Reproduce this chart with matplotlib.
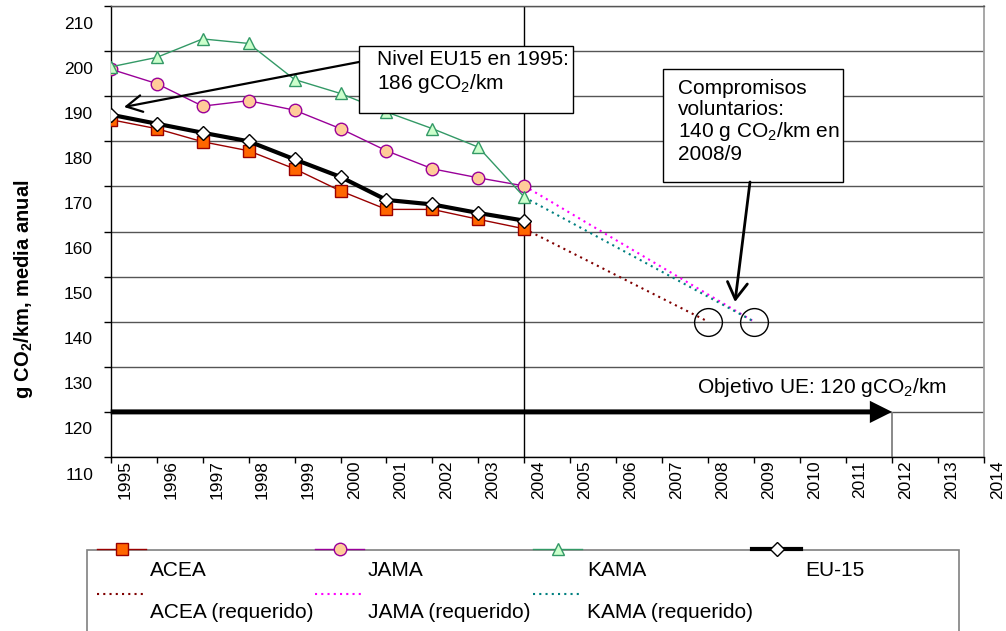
import matplotlib
matplotlib.use('Agg')
import matplotlib.pyplot as plt
from matplotlib.lines import Line2D
from matplotlib.patches import Rectangle, FancyArrowPatch
from matplotlib.transforms import ScaledTranslation

plt.rcParams['font.family'] = ['Liberation Sans', 'DejaVu Sans']
plt.rcParams['mathtext.fontset'] = 'custom'
plt.rcParams['mathtext.rm'] = 'Liberation Sans'
plt.rcParams['mathtext.it'] = 'Liberation Sans:italic'
plt.rcParams['mathtext.bf'] = 'Liberation Sans:bold'

# ---------------- data ----------------
years = [1995, 1996, 1997, 1998, 1999, 2000, 2001, 2002, 2003, 2004]
acea = [184.8, 182.8, 179.9, 177.9, 173.9, 169.0, 164.9, 164.9, 162.7, 160.6]
jama = [196.0, 192.8, 187.8, 189.0, 186.9, 182.8, 177.9, 173.9, 171.9, 170.1]
kama = [196.5, 198.6, 202.7, 201.7, 193.7, 190.6, 186.5, 182.8, 178.7, 167.6]
eu15 = [185.9, 183.9, 181.9, 180.0, 176.0, 172.1, 167.0, 166.0, 164.1, 162.4]

acea_req_years = [2004, 2008]
acea_req = [160.6, 140]
jama_req_years = [2004, 2009]
jama_req = [170.1, 140]
kama_req_years = [2004, 2009]
kama_req = [167.6, 140]

target_years = [2008, 2009]
target_vals = [140, 140]

objective_years = [1995, 2012]
objective_val = 120

xticks = list(range(1995, 2015))
yticks = list(range(110, 211, 10))

legend_row1 = ['ACEA', 'JAMA', 'KAMA', 'EU-15']
legend_row2 = ['ACEA (requerido)', 'JAMA (requerido)', 'KAMA (requerido)']

# ---------------- figure ----------------
W, H = 1006, 631
fig = plt.figure(figsize=(W / 100, H / 100), dpi=100)
fig.patch.set_facecolor('white')


def fx(x):
    return x / W


def fy(y):
    return 1 - y / H


ax = fig.add_axes([fx(110.7), fy(457), (984 - 110.7) / W, (457 - 6) / H])
ax.set_xlim(1995, 2014)
ax.set_ylim(110, 210)

ax.set_axisbelow(True)
ax.yaxis.grid(True, color='#555555', lw=1.0)
ax.xaxis.grid(False)
for s in ['left', 'bottom']:
    ax.spines[s].set_color('black')
    ax.spines[s].set_linewidth(1.0)
ax.spines['right'].set_color('#a0a0a0')
ax.spines['right'].set_linewidth(1.3)
ax.spines['top'].set_color('#555555')
ax.spines['top'].set_linewidth(1.0)

ax.set_xticks(xticks)
ax.set_xticklabels([str(y) for y in xticks], rotation=90, fontsize=12.5)
ax.set_yticks(yticks)
ax.set_yticklabels([str(v) for v in yticks], fontsize=12.5)
ax.tick_params(axis='x', direction='out', length=4.3, width=1, pad=-2.0, colors='black')
ax.tick_params(axis='y', direction='out', length=5, width=1, pad=7.7, colors='black')

offx = ScaledTranslation(14 / 100, 0, fig.dpi_scale_trans)
for lbl in ax.get_xticklabels():
    lbl.set_transform(lbl.get_transform() + offx)
offy = ScaledTranslation(0, -16.5 / 100, fig.dpi_scale_trans)
for lbl in ax.get_yticklabels():
    lbl.set_transform(lbl.get_transform() + offy)

# reference lines
ax.axvline(2004, color='black', lw=1.0, zorder=2)
ax.vlines(objective_years[1], 110, objective_val, color='#808080', lw=1.3, zorder=2)

# objective arrow
ax.annotate('', xy=(objective_years[1], objective_val), xytext=(objective_years[0], objective_val),
            arrowprops=dict(arrowstyle='simple,head_length=0.8,head_width=0.8,tail_width=0.18',
                            mutation_scale=20, fc='black', ec='none', lw=0,
                            shrinkA=0, shrinkB=0),
            zorder=4, annotation_clip=False)

# required (dotted) lines
ax.plot(acea_req_years, acea_req, color='#800000', lw=1.5, ls=(0, (1, 2)), zorder=3)
ax.plot(jama_req_years, jama_req, color='#ff00ff', lw=1.5, ls=(0, (1, 2)), zorder=3)
ax.plot(kama_req_years, kama_req, color='#008080', lw=1.5, ls=(0, (1, 2)), zorder=3)

# target circles
ax.plot(target_years, target_vals, ls='none', marker='o', ms=20, mfc='none', mec='black',
        mew=1.0, zorder=3)

# series
acea_style = dict(color='#990000', lw=1.0, marker='s', ms=8, mfc='#ff6600', mec='#990000', mew=1.0)
jama_style = dict(color='#990099', lw=1.0, marker='o', ms=9, mfc='#ffcc99', mec='#990099', mew=1.0)
kama_style = dict(color='#339966', lw=1.0, marker='^', ms=9, mfc='#ccffcc', mec='#339966', mew=1.0)
eu_style = dict(color='black', lw=3.0, marker='D', ms=7, mfc='white', mec='black', mew=1.0)

ax.plot(years, acea, zorder=4, **acea_style)
ax.plot(years, jama, zorder=4, **jama_style)
ax.plot(years, kama, zorder=4, **kama_style)
ax.plot(years, eu15, zorder=4, **eu_style)

# ---------------- annotations (figure pixel coords) ----------------
fs_ann = 15
fig.add_artist(Rectangle((fx(359), fy(113)), (573 - 359) / W, (113 - 46) / H,
                         transform=fig.transFigure, fc='white', ec='black', lw=1.0, zorder=5))
fig.text(fx(377), fy(65), 'Nivel EU15 en 1995:', fontsize=fs_ann, ha='left', va='baseline', zorder=6)
fig.text(fx(377), fy(89), r'186 gCO$_{\mathrm{2}}$/km', fontsize=fs_ann, ha='left', va='baseline', zorder=6)
fig.add_artist(FancyArrowPatch((fx(359), fy(62)), (fx(124), fy(107)), transform=fig.transFigure,
                               arrowstyle='->,head_length=0.75,head_width=0.4', mutation_scale=15,
                               lw=1.6, color='black', shrinkA=0, shrinkB=0, zorder=6))

fig.add_artist(Rectangle((fx(663), fy(182)), (843 - 663) / W, (182 - 69) / H,
                         transform=fig.transFigure, fc='white', ec='black', lw=1.0, zorder=5))
comp_lines = ['Compromisos', 'voluntarios:', r'140 g CO$_{\mathrm{2}}$/km en', '2008/9']
comp_base = [94, 115, 137, 160]
for t, b in zip(comp_lines, comp_base):
    fig.text(fx(678), fy(b), t, fontsize=fs_ann, ha='left', va='baseline', zorder=6)
fig.add_artist(FancyArrowPatch((fx(750), fy(182)), (fx(735), fy(302)), transform=fig.transFigure,
                               arrowstyle='->,head_length=0.75,head_width=0.45', mutation_scale=16,
                               lw=2.0, color='black', shrinkA=0, shrinkB=0, zorder=6))

fig.text(fx(697), fy(393), r'Objetivo UE: 120 gCO$_{\mathrm{2}}$/km', fontsize=fs_ann,
         ha='left', va='baseline', zorder=6)

# y label
fig.text(fx(24), fy(289), r'g CO$_\mathbf{2}$/km, media anual', rotation=90, fontsize=14.5,
         fontweight='bold', ha='center', va='center')

# ---------------- legend (manual, Excel style) ----------------
fig.add_artist(Rectangle((fx(87), fy(660)), (959 - 87) / W, (660 - 550) / H,
                         transform=fig.transFigure, fc='white', ec='#808080', lw=1.2, zorder=1))
col_x0 = [97, 315, 533, 752]
text_x = [150, 368, 587, 805]
styles = [acea_style, jama_style, kama_style, eu_style]
for x0, tx, lab, st in zip(col_x0, text_x, legend_row1, styles):
    ln = Line2D([fx(x0), fx(x0 + 24.5), fx(x0 + 49)], [fy(549)] * 3, transform=fig.transFigure,
                markevery=[1], zorder=2, **st)
    fig.add_artist(ln)
    fig.text(fx(tx), fy(576), lab, fontsize=fs_ann, ha='left', va='baseline', zorder=3)
req_colors = ['#800000', '#ff00ff', '#008080']
for x0, tx, lab, c in zip(col_x0, text_x, legend_row2, req_colors):
    ln = Line2D([fx(x0), fx(x0 + 47)], [fy(594)] * 2, transform=fig.transFigure,
                color=c, lw=1.5, ls=(0, (1, 2)), zorder=2)
    fig.add_artist(ln)
    fig.text(fx(tx), fy(618), lab, fontsize=fs_ann, ha='left', va='baseline', zorder=3)

fig.savefig('out.png', dpi=100, facecolor='white')
